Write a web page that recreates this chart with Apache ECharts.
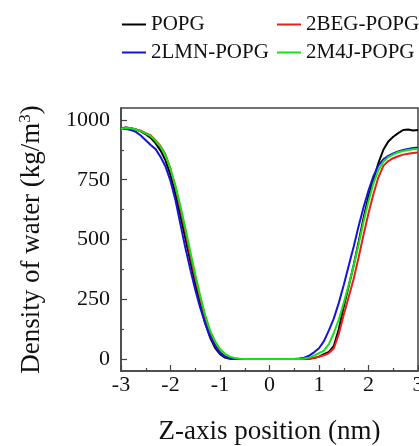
<!DOCTYPE html>
<html>
<head>
<meta charset="utf-8">
<script src="https://cdn.jsdelivr.net/npm/echarts@6/dist/echarts.min.js"></script>
<style>
html,body{margin:0;padding:0;background:#fff;}
#chart{width:419px;height:446px;}
</style>
</head>
<body>
<div id="chart"></div>
<script>
var zPositions = [-3.0,-2.9,-2.8,-2.7,-2.6,-2.5,-2.4,-2.3,-2.2,-2.1,-2.0,-1.9,-1.8,-1.7,-1.6,-1.5,-1.4,-1.3,-1.2,-1.1,-1.0,-0.9,-0.8,
  -0.7,-0.6,-0.5,-0.4,-0.3,-0.2,-0.1,0.0,0.1,0.2,0.3,0.4,0.5,0.6,0.7,
  0.8,0.9,1.0,1.1,1.2,1.3,1.4,1.5,1.6,1.7,1.8,1.9,2.0,2.1,2.2,2.3,2.4,2.5,2.6,2.7,2.8,2.9,3.0];

var popg = [965,968,965,960,952,940,925,902,872,830,770,690,600,505,410,315,230,150,90,47,20,6,1,
  0,0,0,0,0,0,0,0,0,0,0,0,0,0,0,
  1,4,10,20,30,55,125,220,305,392,490,590,680,750,820,875,910,930,945,958,960,956,958];

var beg = [965,967,965,960,955,945,935,915,890,855,795,720,630,535,435,340,255,175,110,62,30,12,4,
  1,0,0,0,0,0,0,0,0,0,0,0,0,0,0,
  2,5,10,16,25,45,105,185,260,335,425,520,610,690,760,808,828,840,848,855,859,862,864];

var lmn = [962,962,958,950,935,915,895,878,845,805,745,665,565,465,375,290,215,150,95,55,25,10,3,
  1,0,0,0,0,0,0,0,0,0,0,0,0,2,6,
  14,28,45,75,120,170,235,310,390,470,555,635,705,765,810,835,850,860,868,874,879,883,885];

var m4j = [962,966,965,960,953,943,932,912,888,852,795,725,640,548,450,355,265,185,120,75,42,22,10,
  4,1,0,0,0,0,0,0,0,0,0,0,0,0,2,
  6,14,25,35,62,110,165,235,310,390,480,575,660,735,790,825,845,856,865,870,874,877,878];

var seriesNames = ['POPG','2BEG-POPG','2LMN-POPG','2M4J-POPG'];
var seriesColors = ['#000000','#ee1c1c','#1414d8','#18e018'];
var seriesValues = [popg, beg, lmn, m4j];

var yMajorTicks = [0,250,500,750,1000];
var yMinorTicks = [125,375,625,875];
var xTickLabels = ['-3','-2','-1','0','1','2','3'];

var FONT = '"Liberation Serif","Times New Roman",serif';

function pairs(vals){
  return zPositions.map(function(z,i){ return [z, vals[i]]; });
}

var legendPos = [
  {left:122, top:14},
  {left:277, top:14},
  {left:122, top:42},
  {left:277, top:42}
];

var legends = seriesNames.map(function(n,i){
  return {
    data:[n], left:legendPos[i].left, top:legendPos[i].top,
    icon:'rect', itemWidth:24, itemHeight:2, itemGap:0, padding:0,
    textStyle:{fontFamily:FONT, fontSize:21, color:'#111'}
  };
});

var chart = echarts.init(document.getElementById('chart'), null, {renderer:'canvas'});
chart.setOption({
  animation:false,
  backgroundColor:'#fff',
  legend: legends,
  grid:{left:121, right:1, top:108, bottom:75, show:true, borderColor:'#444', borderWidth:1.5,
    backgroundColor:'transparent', containLabel:false, outerBoundsMode:'none'},
  xAxis:{
    type:'value', min:-3, max:3, interval:1,
    name:'Z-axis position (nm)', nameLocation:'middle', nameGap:47,
    nameTextStyle:{fontFamily:FONT, fontSize:27, color:'#111'},
    axisLine:{show:true, onZero:false, lineStyle:{color:'#444', width:1.5}},
    axisTick:{show:true, inside:true, length:6, lineStyle:{color:'#444', width:1.2}},
    minorTick:{show:true, splitNumber:2, length:3, lineStyle:{color:'#444', width:1.2}},
    axisLabel:{fontFamily:FONT, fontSize:22, color:'#111', margin:3,
      formatter:function(v){ var i = Math.round(v+3); return xTickLabels[i] !== undefined ? xTickLabels[i] : ''; }},
    splitLine:{show:false}, minorSplitLine:{show:false}
  },
  yAxis:[{
    type:'value', min:-50, max:1050,
    name:'{a|Density of water (kg/m}{s|3}{a|)}', nameLocation:'middle', nameGap:75, nameRotate:90,
    nameTextStyle:{fontFamily:FONT, fontSize:27, color:'#111',
      rich:{a:{fontFamily:FONT, fontSize:27, color:'#111'}, s:{fontFamily:FONT, fontSize:17, color:'#111', verticalAlign:'top', padding:[0,0,12,0]}}},
    axisLine:{show:true, onZero:false, lineStyle:{color:'#444', width:1.5}},
    axisTick:{show:true, inside:true, length:6, customValues:yMajorTicks, lineStyle:{color:'#444', width:1.2}},
    axisLabel:{fontFamily:FONT, fontSize:22, color:'#111', margin:11, customValues:yMajorTicks,
      formatter:function(v){ return String(v); }},
    splitLine:{show:false}
  },{
    type:'value', min:-50, max:1050, position:'left',
    axisLine:{show:false, onZero:false},
    axisTick:{show:true, inside:true, length:3, customValues:yMinorTicks, lineStyle:{color:'#444', width:1.2}},
    axisLabel:{show:false},
    splitLine:{show:false}
  }],
  series: seriesNames.map(function(n,i){
    return {
      name:n, type:'line', data:pairs(seriesValues[i]), yAxisIndex:0,
      symbol:'none', showSymbol:false, smooth:false,
      lineStyle:{color:seriesColors[i], width:2},
      itemStyle:{color:seriesColors[i]}
    };
  })
});
</script>
</body>
</html>
